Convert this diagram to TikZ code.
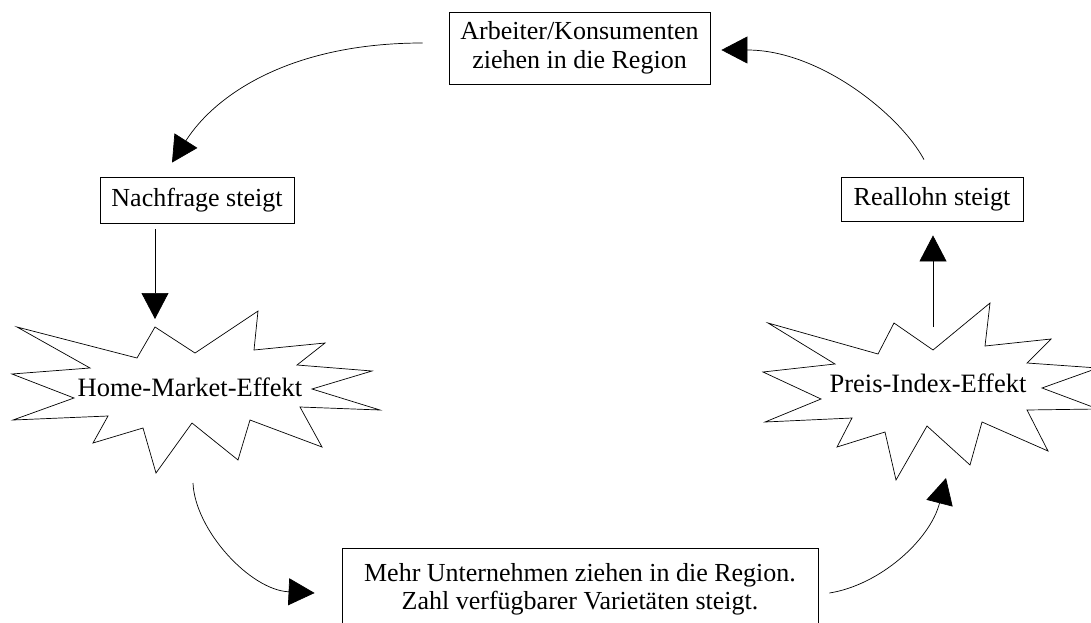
\documentclass[tikz,border=0pt]{standalone}
\usepackage{fontspec}
\setmainfont{Liberation Serif}
\usetikzlibrary{arrows.meta}
\tikzset{
  box/.style={draw, line width=0.8pt, inner sep=0pt, align=center, font=\fontsize{26}{28.5}\selectfont},
  bursttext/.style={inner sep=0pt, font=\fontsize{26.5}{28.5}\selectfont},
  burst/.style={draw, line width=0.7pt, line join=miter},
  flow/.style={line width=0.7pt, -{Triangle[length=26pt,width=27pt]}}
}
\begin{document}
\begin{tikzpicture}[x=1pt,y=-1pt]
\fill[white] (0,0) rectangle (1091,623);
\useasboundingbox (0,0) rectangle (1091,623);
%\draw[help lines,step=50] (0,0) grid (1091,623);
% boxes
\node[box,minimum width=261pt,minimum height=72pt] (arb) at (579.5,48) {Arbeiter/Konsumenten\\ziehen in die Region};
\node[box,minimum width=194pt,minimum height=46pt] (nach) at (197,200) {Nachfrage steigt};
\node[box,minimum width=182pt,minimum height=44pt] (real) at (932,199.5) {Reallohn steigt};
\node[box,minimum width=476pt,inner xsep=6pt,inner ysep=15pt,anchor=north] (unt) at (580,548) {Mehr Unternehmen ziehen in die Region.\\Zahl verfügbarer Varietäten steigt.};
% starbursts
\draw[burst] (155,327) -- (195,353) -- (258,311) -- (254,350) -- (325,343) -- (297,365) -- (372,371) -- (312,389)
  -- (380,410) -- (300,407) -- (322,447) -- (250,420) -- (238,460) -- (192,423) -- (156,473) -- (143,428)
  -- (93,443) -- (108,416) -- (13,420) -- (74,398) -- (12,374) -- (90,368) -- (17,327) -- (137,358) -- cycle;
\node[bursttext] (hme) at (190,387) {Home-Market-Effekt};
\draw[burst] (933,350) -- (990,303) -- (985,346) -- (1051,339) -- (1027,363) -- (1098,368) -- (1042,388) -- (1098,409)
  -- (1027,410) -- (1048,451) -- (982,422) -- (970,465) -- (927,426) -- (896,480) -- (885,432) -- (837,447)
  -- (852,418) -- (765,422) -- (821,399) -- (763,372) -- (835,364) -- (768,323) -- (878,354) -- (894,323) -- cycle;
\node[bursttext] (pie) at (928,383) {Preis-Index-Effekt};
% connector ends
\coordinate (arbout) at ([xshift=-26pt,yshift=5pt]arb.west);
\coordinate (nachin) at ([xshift=-25pt,yshift=14pt]nach.north);
\coordinate (nachout) at ([xshift=-42pt,yshift=-6pt]nach.south);
\coordinate (hmtop) at (155,319);
\coordinate (hmbot) at (193,483);
\coordinate (untin) at ([xshift=-27pt,yshift=-45pt]unt.north west);
\coordinate (untout) at ([xshift=11pt,yshift=-45pt]unt.north east);
\coordinate (pietip) at (946,478);
\coordinate (piebot) at (933,327);
\coordinate (realin) at ([xshift=1pt,yshift=-13.5pt]real.south);
\coordinate (realout) at ([xshift=-8pt,yshift=17.5pt]real.north);
\coordinate (arbin) at ([xshift=11pt,yshift=-2pt]arb.east);
% cycle
\draw[flow] (arbout) .. controls (290,43) and (215,95) .. (nachin);
\draw[flow] (nachout) -- (hmtop);
\draw[flow] (hmbot) .. controls (195,530) and (250,590) .. (untin);
\draw[flow] (untout) .. controls (880,585) and (930,540) .. (pietip);
\draw[flow] (piebot) -- (realin);
\draw[flow] (realout) .. controls (900,115) and (820,50) .. (arbin);
\end{tikzpicture}
\end{document}
